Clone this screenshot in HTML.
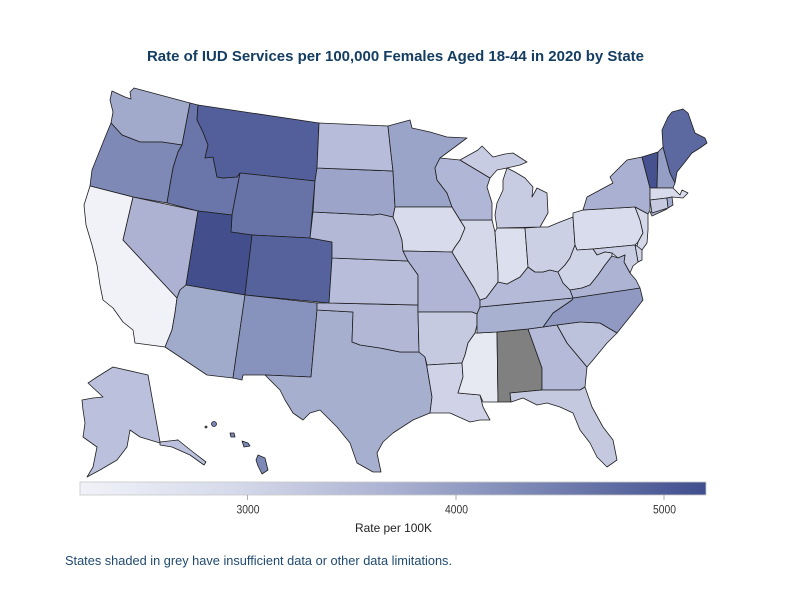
<!DOCTYPE html>
<html><head><meta charset="utf-8"><style>
html,body{margin:0;padding:0;background:#fff;}
svg{display:block;}
</style></head><body>
<svg width="790" height="612" viewBox="0 0 790 612" xmlns="http://www.w3.org/2000/svg">
<defs>
<linearGradient id="cb" x1="0" x2="1" y1="0" y2="0">
<stop offset="0" stop-color="#f1f2f9"/>
<stop offset="0.25" stop-color="#d5d9ea"/>
<stop offset="0.5" stop-color="#aab1d1"/>
<stop offset="0.75" stop-color="#7581b0"/>
<stop offset="1" stop-color="#404e8e"/>
</linearGradient>
</defs>
<rect width="790" height="612" fill="#fff"/>
<text x="395.5" y="61" text-anchor="middle" font-family="Liberation Sans, sans-serif" font-weight="bold" font-size="15" fill="#143d62" textLength="497" lengthAdjust="spacingAndGlyphs">Rate of IUD Services per 100,000 Females Aged 18-44 in 2020 by State</text>

<g stroke="#1e1e1e" stroke-width="0.8" stroke-linejoin="round">
<!-- WA -->
<polygon fill="#a1aacb" points="112,91 125,97 131,99 130,92 134,88 190,103 182,145 162,142 140,142 122,135 111,123 113,112 110,100"/>
<!-- OR -->
<polygon fill="#7e89b6" points="111,123 122,135 140,142 162,142 182,145 178,152 173,168 170,185 167,203 133,197 90,186 92,170 100,150 106,135"/>
<!-- CA -->
<polygon fill="#f1f2f8" points="90,186 133,197 123,240 177,298 175,313 172,330 165,347 135,343 133,330 123,322 113,308 103,300 100,285 97,265 92,245 86,225 84,205"/>
<!-- NV -->
<polygon fill="#adb2d3" points="133,197 198,211 186,285 180,290 177,298 123,240"/>
<!-- ID -->
<polygon fill="#6a75aa" points="190,103 198,105 197,120 203,132 208,145 205,158 213,157 217,177 223,178 237,177 240,173 232,215 198,211 167,203 170,185 173,168 178,152 182,145"/>
<!-- MT -->
<polygon fill="#525f9a" points="198,105 319,123 317,168 315,181 240,173 237,177 223,178 217,177 213,157 205,158 208,145 203,132 197,120"/>
<!-- WY -->
<polygon fill="#6772a6" points="240,173 315,181 310,238 252,235 231,232 232,215"/>
<!-- UT -->
<polygon fill="#424f8c" points="198,211 232,215 231,232 252,235 245,295 186,285"/>
<!-- CO -->
<polygon fill="#56629c" points="252,235 310,238 332,242 332,258 329,303 245,295"/>
<!-- AZ -->
<polygon fill="#a0aacb" points="186,285 245,295 233,378 207,375 165,347 172,330 175,313 177,298 180,290"/>
<!-- NM -->
<polygon fill="#8893bd" points="245,295 317,303 317,310 311,377 265,375 243,375 242,380 233,378"/>
<!-- TX -->
<polygon fill="#a7afcf" points="317,310 353,312 352,342 360,345 380,348 400,352 413,352 419,352 425,357 427,367 432,397 430,413 413,420 393,433 383,442 377,453 381,472 373,472 357,463 350,443 337,427 320,410 310,413 303,420 293,413 285,400 280,390 265,375 311,377"/>
<!-- OK -->
<polygon fill="#b2b7d6" points="317,303 329,303 418,305 418,312 419,352 413,352 400,352 380,348 360,345 352,342 353,312 317,310"/>
<!-- KS -->
<polygon fill="#b8bdda" points="332,258 408,261 413,268 418,275 418,305 329,303"/>
<!-- NE -->
<polygon fill="#b2b8d6" points="313,212 373,215 380,214 393,217 398,228 402,240 403,251 408,261 332,258 332,242 310,238"/>
<!-- SD -->
<polygon fill="#9ca5c9" points="317,168 393,171 395,207 393,217 380,214 373,215 313,212 315,181"/>
<!-- ND -->
<polygon fill="#b6bcd9" points="319,123 388,126 390,145 393,171 317,168"/>
<!-- MN -->
<polygon fill="#9aa3c8" points="388,126 410,120 412,128 430,132 447,137 467,138 440,158 435,168 437,180 447,193 452,207 395,207 393,171 390,145"/>
<!-- IA -->
<polygon fill="#d8dbeb" points="395,207 452,207 460,220 465,228 460,240 455,247 452,252 403,251 402,240 398,228 393,217"/>
<!-- MO -->
<polygon fill="#b0b5d5" points="403,251 452,252 458,262 466,275 474,288 480,300 480,307 477,314 472,312 418,312 418,305 418,275 413,268 408,261"/>
<!-- AR -->
<polygon fill="#c5cae1" points="418,312 472,312 477,314 477,325 475,333 468,343 465,355 462,363 427,365 425,357 419,352"/>
<!-- LA -->
<polygon fill="#d0d3e7" points="427,365 462,363 463,377 458,393 480,395 483,407 490,420 480,420 470,422 450,413 430,413 432,397 427,367"/>
<!-- MS -->
<polygon fill="#e6e8f2" points="477,333 497,332 498,402 483,402 480,395 458,393 463,377 462,363 465,355 468,343 475,333"/>
<!-- AL -->
<polygon fill="#808080" points="497,332 528,329 542,368 542,390 510,393 511,402 498,402"/>
<!-- GA -->
<polygon fill="#b4bad8" points="528,329 543,327 557,325 567,343 587,367 585,387 580,390 542,390 542,368"/>
<!-- FL -->
<polygon fill="#c4c9e0" points="510,393 542,390 580,390 585,387 592,407 603,427 613,440 617,460 607,467 597,457 590,443 580,430 573,413 560,407 547,403 537,405 523,398 511,402"/>
<!-- SC -->
<polygon fill="#bcc1dc" points="557,325 580,322 600,323 617,333 607,343 593,360 587,367 567,343"/>
<!-- NC -->
<polygon fill="#8f99c1" points="573,298 640,288 643,300 633,313 617,333 600,323 580,322 557,325 543,327 553,313 572,300"/>
<!-- TN -->
<polygon fill="#a9b1d1" points="480,307 573,298 572,300 553,313 543,327 528,329 497,332 477,333 477,325 477,314"/>
<!-- KY -->
<polygon fill="#b4bad8" points="480,307 480,300 486,298 492,290 498,282 507,284 520,277 528,267 535,272 543,272 550,270 558,272 563,283 570,290 573,298"/>
<!-- IL -->
<polygon fill="#d4d8e9" points="460,220 492,220 495,232 498,273 498,282 492,290 486,298 480,300 474,288 466,275 458,262 452,252 455,247 460,240 465,228"/>
<!-- IN -->
<polygon fill="#dcdfed" points="495,232 497,228 525,228 528,267 520,277 507,284 498,282 498,273"/>
<!-- OH -->
<polygon fill="#ccd0e5" points="525,228 540,227 548,227 560,222 573,217 575,245 570,258 565,265 558,272 550,270 543,272 535,272 528,267"/>
<!-- WI -->
<polygon fill="#b0b6d5" points="440,158 460,160 490,178 487,187 492,203 492,220 460,220 452,207 447,193 437,180 435,168"/>
<!-- MI UP -->
<polygon fill="#c8cce2" points="460,160 478,150 482,146 493,157 505,154 513,153 527,162 520,165 507,168 497,170 490,178"/>
<!-- MI LP -->
<polygon fill="#c8cce2" points="497,228 540,227 548,213 547,193 537,188 532,197 533,187 525,178 515,172 507,168 503,180 503,190 497,203 495,215"/>
<!-- PA -->
<polygon fill="#d9dcec" points="573,213 583,210 635,207 640,220 643,233 638,242 635,245 593,249 577,250 575,245 573,217"/>
<!-- NY -->
<polygon fill="#a9b0d1" points="583,210 587,197 613,183 610,177 627,160 642,157 650,188 650,210 648,214 635,207"/>
<polygon fill="#a9b0d1" points="650,212 664,207 667,209 652,216"/>
<!-- VT -->
<polygon fill="#45528f" points="642,157 658,152 657,188 650,188"/>
<!-- NH -->
<polygon fill="#959fc5" points="658,152 663,147 670,173 675,183 673,188 657,188"/>
<!-- ME -->
<polygon fill="#5c68a0" points="663,147 662,130 668,117 672,112 683,109 688,113 695,133 705,138 707,143 700,148 692,153 685,162 677,172 675,183 670,173"/>
<!-- MA -->
<polygon fill="#d8dbeb" points="650,188 657,188 673,188 680,195 682,190 688,193 683,198 672,197 667,198 650,200"/>
<!-- CT -->
<polygon fill="#c5cae1" points="650,200 667,198 668,208 652,213"/>
<!-- RI -->
<polygon fill="#a3abcd" points="667,198 672,197 673,205 668,208"/>
<!-- NJ -->
<polygon fill="#d4d8e9" points="635,207 648,214 648,230 647,243 642,250 637,246 638,242 643,233 640,220"/>
<!-- DE -->
<polygon fill="#d0d4e7" points="635,245 637,246 642,250 642,260 638,262"/>
<!-- MD -->
<polygon fill="#c8cde3" points="593,249 635,245 638,262 633,266 630,273 624,262 625,255 618,258 612,253 605,252 597,255"/>
<!-- WV -->
<polygon fill="#d0d4e7" points="577,250 593,249 597,255 605,252 612,253 612,256 605,265 598,275 590,285 582,288 570,290 563,283 558,272 565,265 570,258 575,245"/>
<!-- VA -->
<polygon fill="#acb3d3" points="573,298 570,290 582,288 590,285 598,275 605,265 612,256 618,258 625,255 624,262 630,273 636,280 640,288"/>
<!-- AK -->
<polygon fill="#bbc0dc" points="113,367 148,375 160,442 170,442 178,440 160,443 140,437 130,430 127,447 117,460 100,470 87,477 93,467 97,447 83,437 85,423 83,410 82,400 93,398 103,397 88,383 97,377"/>
<polygon fill="#bbc0dc" points="160,442 178,440 193,452 206,462 204,465 190,455 172,447 160,445"/>
<!-- HI -->
<polygon fill="#7c88b5" points="258,455 265,458 268,470 262,474 258,466 256,460"/>
<polygon fill="#7c88b5" points="242,441 248,443 250,446 244,447"/>
<polygon fill="#7c88b5" points="230,433 234,433 235,437 231,437"/>
<circle fill="#7c88b5" cx="214" cy="424" r="2.5"/>
<circle fill="#7c88b5" cx="206" cy="427" r="1"/>
</g>

<!-- colorbar -->
<rect x="80" y="482" width="626" height="13" fill="url(#cb)" stroke="#c8c8c8" stroke-width="0.8"/>
<g stroke="#999" stroke-width="0.8">
<line x1="247.5" y1="495" x2="247.5" y2="500"/>
<line x1="456" y1="495" x2="456" y2="500"/>
<line x1="664" y1="495" x2="664" y2="500"/>
</g>
<g font-family="Liberation Sans, sans-serif" font-size="11.5" fill="#333" text-anchor="middle">
<text x="248" y="513.5" textLength="23" lengthAdjust="spacingAndGlyphs">3000</text>
<text x="456.5" y="513.5" textLength="23" lengthAdjust="spacingAndGlyphs">4000</text>
<text x="664.5" y="513.5" textLength="23" lengthAdjust="spacingAndGlyphs">5000</text>
</g>
<text x="393.5" y="532" text-anchor="middle" font-family="Liberation Sans, sans-serif" font-size="12" fill="#222" textLength="77" lengthAdjust="spacingAndGlyphs">Rate per 100K</text>
<text x="65" y="565" font-family="Liberation Sans, sans-serif" font-size="12.5" fill="#1f4a70" textLength="387" lengthAdjust="spacingAndGlyphs">States shaded in grey have insufficient data or other data limitations.</text>
</svg>
</body></html>
